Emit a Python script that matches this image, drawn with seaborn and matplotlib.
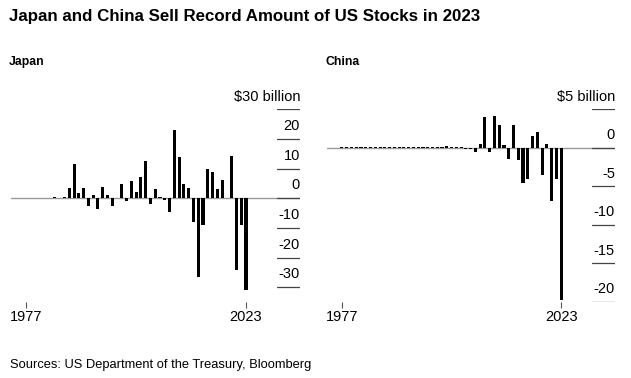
import pandas as pd
import matplotlib
matplotlib.use('Agg')
import matplotlib.pyplot as plt
import matplotlib.transforms as mtransforms
import seaborn as sns

# 연도 / 연간 순매도·순매수 (십억 달러)
years = list(range(1977, 2024))

japan = [0.1, 0.1, 0.1, 0.1, 0.0, 0.1, 0.3, 0.1, 0.4,
         3.3, 11.4, 1.9, 3.3, -2.7, 1.1, -3.5, 3.8, 1.2, -2.6,
         0.2, 4.8, -0.9, 5.8, 2.1, 7.0, 12.5, -2.0, 3.0, 0.3,
         -0.6, -4.8, 23.1, 13.9, 4.7, 3.5, -8.0, -26.4, -9.1,
         9.8, 8.9, 3.2, 6.1, 0.1, 14.2, -24.1, -8.9, -30.8]

china = [0.05, 0.05, 0.05, 0.05, 0.05, 0.05, 0.05, 0.05, 0.05, 0.05,
         0.05, 0.05, 0.05, 0.05, 0.05, 0.05, 0.05, 0.05, 0.05, 0.05,
         0.05, 0.05, 0.2, 0.05, 0.05, 0.15, -0.1,
         -0.2, -0.5, 0.5, 4.0, -0.6, 4.1, 2.9, 0.4, -1.5, 2.9,
         -1.6, -4.5, -4.1, 1.6, 2.0, -3.5, 0.5, -6.9, -4.1, -19.7]

japan_ticks = [30, 20, 10, 0, -10, -20, -30]
china_ticks = [5, 0, -5, -10, -15, -20]
xtick_years = [1977, 2023]

title = 'Japan and China Sell Record Amount of US Stocks in 2023'
source = 'Sources: US Department of the Treasury, Bloomberg'

sns.set_style('white')
plt.rcParams['font.family'] = ['Liberation Sans', 'DejaVu Sans']
plt.rcParams['text.color'] = 'black'
plt.rcParams['xtick.color'] = 'black'
plt.rcParams['xtick.labelcolor'] = 'black'

fig = plt.figure(figsize=(6.31, 3.78), dpi=100)
ax1 = fig.add_axes([11 / 631, 76 / 378, 289 / 631, 192.7 / 378])
ax2 = fig.add_axes([326.7 / 631, 76 / 378, 288.3 / 631, 192.7 / 378])


def draw_panel(ax, vals, ticks, ylim):
    df = pd.DataFrame({'year': years, 'value': vals})
    sns.barplot(data=df, x='year', y='value', native_scale=True,
                color='black', saturation=1, width=0.65, linewidth=0,
                errorbar=None, ax=ax)
    ax.set_xlim(1973.8, 2034.3)
    ax.set_ylim(*ylim)
    ax.set_xlabel('')
    ax.set_ylabel('')
    for s in ax.spines.values():
        s.set_visible(False)
    ax.axhline(0, color='#9a9a9a', lw=1, zorder=0)
    # 오른쪽 눈금: 짧은 선 + 선 위의 라벨
    trans = mtransforms.blended_transform_factory(ax.transAxes, ax.transData)
    for i, t in enumerate(ticks):
        ax.axhline(t, xmin=0.92, xmax=1.0, color='#444444', lw=0.9, zorder=1)
        lab = f'${t} billion' if i == 0 else str(t)
        ax.annotate(lab, xy=(1.0, t), xycoords=trans, xytext=(0, 6.3),
                    textcoords='offset points', ha='right', va='baseline',
                    fontsize=10.5, color='black')
    ax.set_yticks([])
    ax.set_xticks(xtick_years)
    ax.set_xticklabels([str(y) for y in xtick_years], fontsize=10.5)
    ax.tick_params(axis='x', length=4.5, width=0.8, color='#555555',
                   pad=1.5, bottom=True)
    ax.set_facecolor('none')


draw_panel(ax1, japan, japan_ticks, (-35, 30))
draw_panel(ax2, china, china_ticks, (-20, 5))

fig.text(9 / 631, 1 - 17 / 378, title, fontsize=12.2, fontweight='bold',
         va='center', ha='left')
fig.text(9 / 631, 1 - 62 / 378, 'Japan', fontsize=8.8, fontweight='bold',
         va='center', ha='left')
fig.text(326 / 631, 1 - 62 / 378, 'China', fontsize=8.8, fontweight='bold',
         va='center', ha='left')
fig.text(10 / 631, 1 - 365 / 378, source, fontsize=9.3,
         va='center', ha='left')

fig.savefig('out.png', dpi=100)
